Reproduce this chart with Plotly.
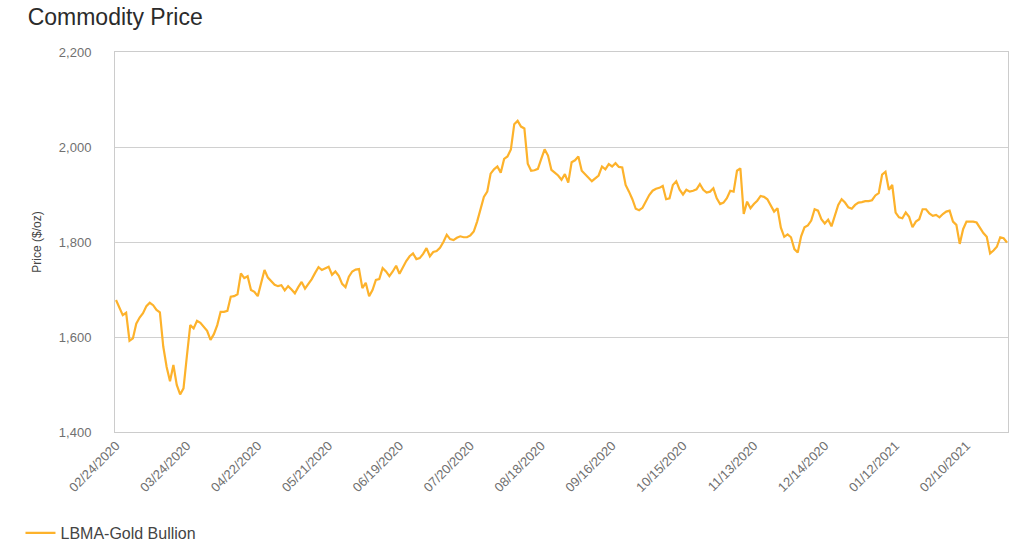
import pandas as pd
import plotly.graph_objects as go

# LBMA Gold Bullion price ($/oz), one value per business day starting 02/24/2020
prices = [
    1678, 1660, 1646, 1651, 1592, 1597, 1628, 1641, 1650, 1665,
    1672, 1667, 1657, 1652, 1580, 1537, 1507, 1541, 1499, 1479,
    1492, 1560, 1625, 1618, 1634, 1630, 1622, 1613, 1594, 1606,
    1625, 1653, 1653, 1655, 1685, 1686, 1690, 1734, 1724, 1728,
    1699, 1695, 1686, 1715, 1741, 1725, 1718, 1710, 1707, 1709,
    1698, 1707, 1700, 1692, 1705, 1716, 1702, 1712, 1722, 1735,
    1747, 1741, 1744, 1748, 1731, 1738, 1729, 1712, 1705, 1727,
    1738, 1742, 1743, 1703, 1714, 1686, 1699, 1720, 1722, 1745,
    1738, 1728, 1738, 1750, 1733, 1748, 1760, 1770, 1776, 1764,
    1766, 1775, 1787, 1770, 1779, 1781, 1788, 1800, 1815, 1806,
    1804, 1809, 1812, 1810, 1810, 1814, 1822, 1843, 1868, 1895,
    1906, 1944, 1953, 1959, 1946, 1975, 1980, 1995, 2048, 2055,
    2043, 2039, 1965, 1950, 1951, 1954, 1975, 1995, 1982, 1952,
    1946, 1940, 1931, 1943, 1925, 1968, 1972, 1980, 1950, 1942,
    1936, 1928, 1934, 1940, 1959, 1953, 1964, 1959, 1966, 1958,
    1957, 1920, 1906, 1890, 1870, 1867, 1872, 1885, 1899, 1908,
    1912, 1914, 1918, 1890, 1892, 1920, 1928, 1910, 1900, 1910,
    1906, 1908, 1911, 1922, 1910, 1904, 1906, 1913, 1892, 1880,
    1883, 1892, 1908, 1906, 1950, 1955, 1859, 1885, 1871, 1880,
    1887, 1897, 1895, 1890, 1876, 1864, 1871, 1830, 1811, 1816,
    1810, 1785, 1778, 1812, 1831, 1835, 1845, 1869, 1866, 1848,
    1839, 1847, 1833, 1856, 1878, 1890, 1883, 1873, 1870, 1878,
    1883, 1884, 1886, 1886, 1888, 1898, 1903, 1942, 1948, 1910,
    1920, 1862, 1852, 1850, 1862, 1853, 1831, 1843, 1848, 1869,
    1869, 1860, 1855, 1857, 1852, 1859, 1864, 1866, 1843, 1836,
    1796, 1827, 1843, 1843, 1843, 1841, 1829, 1819, 1811, 1776,
    1782, 1790, 1810, 1808, 1799,
]

dates = [d.strftime("%m/%d/%Y") for d in pd.bdate_range("2020-02-24", periods=len(prices))]
tick_dates = dates[::21]

series_name = "LBMA-Gold Bullion"
line_color = "#FDB22B"
font_family = "Liberation Sans, Arial, sans-serif"

fig = go.Figure()
fig.add_trace(go.Scatter(
    x=dates, y=prices, mode="lines", name=series_name,
    line=dict(color=line_color, width=2.2),
))

fig.update_layout(
    width=1024, height=557,
    margin=dict(l=115, r=16, t=52, b=125),
    paper_bgcolor="white", plot_bgcolor="white",
    font=dict(family=font_family, color="#555555"),
    title=dict(text="Commodity Price", x=0.027, xanchor="left", y=0.969, yanchor="middle",
               font=dict(size=23, color="#2b2b2b", family=font_family)),
    showlegend=True,
    legend=dict(orientation="h", xref="container", yref="container", x=0.02, y=0.043,
                xanchor="left", yanchor="middle", font=dict(size=16, color="#444444")),
    xaxis=dict(
        type="category", range=[-0.3, len(prices) - 0.7],
        tickmode="array", tickvals=tick_dates, ticktext=tick_dates,
        tickangle=-45, tickfont=dict(size=13, color="#707070"),
        showgrid=False, showline=True, mirror=True, linecolor="#cccccc", linewidth=1,
        ticks="", zeroline=False,
    ),
    yaxis=dict(
        range=[1400, 2200], dtick=200, tickformat=",",
        tickfont=dict(size=13, color="#707070"),
        showgrid=True, gridcolor="#d0d0d0", gridwidth=1,
        showline=True, mirror=True, linecolor="#cccccc", linewidth=1,
        ticks="", ticklabelstandoff=20, zeroline=False,
        title=dict(text="Price ($/oz)", font=dict(size=12, color="#444444"), standoff=14),
    ),
)

fig.write_html("out.html")
